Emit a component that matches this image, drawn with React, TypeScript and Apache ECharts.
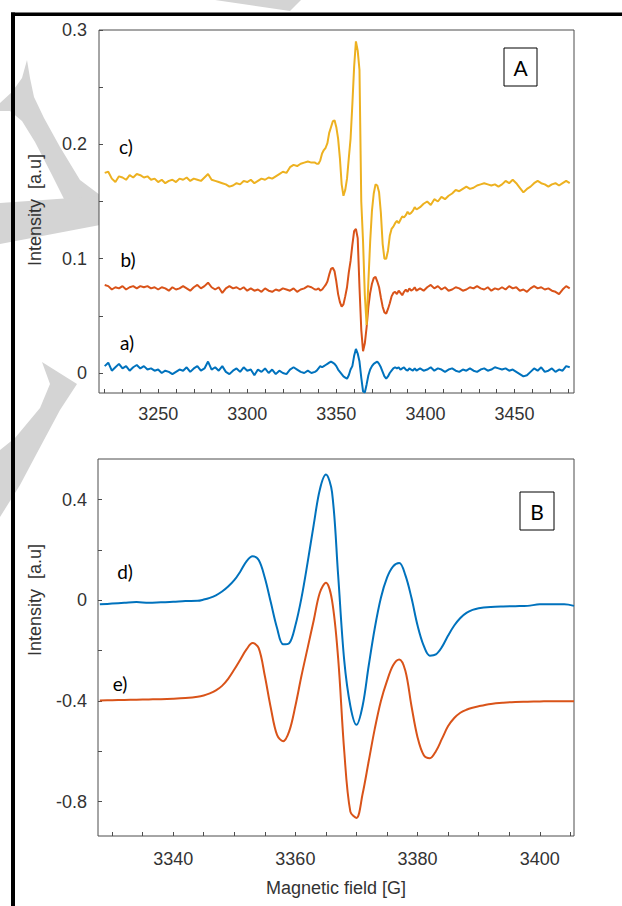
import React, { useEffect, useRef } from "react";
import * as echarts from "echarts";

// ---------- Panel A data ----------
const fieldA = [
  3220, 3222, 3224, 3226, 3228, 3230, 3232, 3234, 3236, 3238,
  3240, 3242, 3244, 3246, 3248, 3250, 3252, 3254, 3256, 3258,
  3260, 3262, 3264, 3266, 3268, 3270, 3272, 3274, 3276, 3278,
  3280, 3282, 3284, 3286, 3288, 3290, 3292, 3294, 3296, 3298,
  3300, 3302, 3304, 3306, 3308, 3310, 3312, 3314, 3316, 3318,
  3320, 3322, 3324, 3326, 3328, 3330, 3332, 3334, 3336, 3338,
  3339, 3340, 3341, 3342, 3343, 3344, 3345, 3346, 3347, 3348,
  3349, 3350, 3351, 3352, 3353, 3354, 3355, 3356, 3357, 3358,
  3359, 3360, 3361, 3362, 3363, 3364, 3365, 3366, 3367, 3368,
  3369, 3370, 3371, 3372, 3373, 3374, 3375, 3376, 3377, 3378,
  3379, 3380, 3381, 3382, 3383, 3384, 3385, 3386, 3387, 3388,
  3389, 3390, 3391, 3392, 3393, 3394, 3395,
  3397, 3399, 3401, 3403, 3405, 3407, 3409, 3411, 3413, 3415,
  3417, 3419, 3421, 3423, 3425, 3427, 3429, 3431, 3433, 3435,
  3437, 3439, 3441, 3443, 3445, 3447, 3449, 3451, 3453, 3455,
  3457, 3459, 3461, 3463, 3465, 3467, 3469, 3471, 3473, 3475,
  3477, 3479, 3481,
];

const seriesA_a = [
  0.006, 0.009, 0.002, 0.005, 0.008, 0.004, 0.006, 0.002, 0.005, 0.007,
  0.004, 0.006, 0.003, 0.004, 0.002, 0.003, 0.0, 0.002, 0.001, -0.001,
  0.001, 0.003, 0.002, 0.005, 0.001, 0.004, 0.006, 0.002, 0.004, 0.01,
  0.003, 0.005, 0.002, 0.006, 0.001, -0.001, 0.002, 0.004, 0.001, 0.005,
  0.002, 0.003, -0.002, 0.003, 0.001, 0.004, 0.0, 0.003, -0.001, 0.002,
  0.0, -0.001, 0.003, 0.005, 0.003, 0.001, 0.0, 0.002, 0.0, 0.001,
  0.002, 0.004, 0.006, 0.005, 0.006, 0.007, 0.008, 0.009, 0.01, 0.009,
  0.008, 0.006, 0.003, 0.001, -0.001, -0.003, -0.004, -0.005, -0.002, 0.003,
  0.006, 0.015, 0.021, 0.017, 0.01, -0.004, -0.016, -0.017, -0.01, -0.002,
  0.003, 0.006, 0.008, 0.009, 0.01, 0.008, 0.005, 0.001, -0.003, -0.005,
  -0.003, 0.0, 0.002, 0.004, 0.005, 0.004, 0.005, 0.003, 0.004, 0.005,
  0.003, 0.002, 0.004, 0.003, 0.002, 0.004, 0.002,
  0.004, 0.002, 0.003, 0.005, 0.002, 0.004, 0.003, 0.001, 0.003, 0.004,
  0.002, 0.001, 0.003, 0.002, 0.004, 0.002, 0.001, 0.003, 0.004, 0.002,
  0.003, 0.005, 0.004, 0.003, 0.004, 0.002, 0.003, 0.001, -0.001, -0.003,
  -0.002, 0.001, 0.004, 0.002, 0.005, 0.001, 0.002, 0.004, 0.001, 0.003,
  0.002, 0.006, 0.005,
];

const seriesA_b = [
  0.077, 0.076, 0.073, 0.075, 0.074, 0.076, 0.073, 0.075, 0.076, 0.074,
  0.076, 0.075, 0.076, 0.074, 0.075, 0.073, 0.075, 0.074, 0.072, 0.075,
  0.073, 0.074, 0.076, 0.074, 0.072, 0.075, 0.077, 0.074, 0.076, 0.079,
  0.075, 0.073, 0.075, 0.07, 0.074, 0.076, 0.074, 0.075, 0.073, 0.075,
  0.072, 0.074, 0.072, 0.073, 0.071, 0.074, 0.072, 0.071, 0.073, 0.072,
  0.074, 0.073, 0.072, 0.074, 0.071, 0.073, 0.074, 0.076, 0.075, 0.073,
  0.073, 0.074, 0.072, 0.073, 0.075, 0.077, 0.08, 0.086, 0.091, 0.092,
  0.089, 0.08, 0.069, 0.062, 0.058, 0.06, 0.067, 0.075, 0.088, 0.098,
  0.112, 0.124, 0.126, 0.118, 0.075, 0.038, 0.019, 0.026, 0.04, 0.058,
  0.07, 0.078, 0.083, 0.084, 0.08, 0.075, 0.066, 0.058, 0.053, 0.052,
  0.056, 0.061, 0.067, 0.07, 0.071, 0.069, 0.072, 0.07, 0.068, 0.071,
  0.073, 0.071, 0.074, 0.072, 0.073, 0.075, 0.072,
  0.074, 0.072, 0.075, 0.077, 0.074, 0.076, 0.073, 0.075, 0.072, 0.073,
  0.075, 0.074, 0.072, 0.073, 0.075, 0.074, 0.076, 0.074, 0.073, 0.075,
  0.072, 0.074, 0.073, 0.075, 0.073, 0.076, 0.074, 0.075, 0.072, 0.073,
  0.071, 0.074, 0.076, 0.074, 0.075, 0.073, 0.074, 0.072, 0.071, 0.069,
  0.073, 0.076, 0.074,
];

const seriesA_c = [
  0.175, 0.176, 0.17, 0.167, 0.172, 0.171, 0.169, 0.173, 0.171, 0.174,
  0.173, 0.171, 0.172, 0.169, 0.17, 0.167, 0.169, 0.166, 0.168, 0.169,
  0.167, 0.17, 0.169, 0.171, 0.168, 0.17, 0.169, 0.168, 0.171, 0.174,
  0.169, 0.168, 0.167, 0.166, 0.165, 0.163, 0.164, 0.166, 0.165, 0.168,
  0.167, 0.169, 0.166, 0.168, 0.17, 0.169, 0.171, 0.17, 0.172, 0.174,
  0.176, 0.175, 0.18, 0.182, 0.181, 0.183, 0.184, 0.185, 0.184, 0.184,
  0.183, 0.183, 0.186, 0.192, 0.195, 0.197, 0.201, 0.21, 0.215, 0.22,
  0.221, 0.215, 0.205, 0.188, 0.165, 0.155, 0.16, 0.17, 0.188, 0.205,
  0.235, 0.268, 0.29, 0.282, 0.265, 0.15, 0.115, 0.068, 0.042, 0.08,
  0.115, 0.142, 0.157, 0.165, 0.164, 0.158, 0.14, 0.113, 0.1, 0.1,
  0.107, 0.12, 0.126, 0.128, 0.131, 0.133, 0.131, 0.134, 0.137, 0.136,
  0.138, 0.141, 0.139, 0.14, 0.142, 0.145, 0.143,
  0.145, 0.148, 0.15, 0.147, 0.152, 0.15, 0.154, 0.152, 0.155, 0.157,
  0.16, 0.159, 0.161, 0.163, 0.161, 0.162, 0.164, 0.165, 0.166, 0.165,
  0.164, 0.165, 0.163, 0.165, 0.168, 0.166, 0.169, 0.166, 0.162, 0.158,
  0.161, 0.163, 0.166, 0.168, 0.166, 0.165, 0.163, 0.165, 0.166, 0.164,
  0.166, 0.168, 0.166,
];

const ticksAx = [3220, 3230, 3240, 3250, 3260, 3270, 3280, 3290, 3300, 3310, 3320, 3330, 3340, 3350, 3360, 3370, 3380, 3390, 3400, 3410, 3420, 3430, 3440, 3450, 3460, 3470, 3480];
const labelsAx = [3250, 3300, 3350, 3400, 3450];
const ticksAy = [0, 0.05, 0.1, 0.15, 0.2, 0.25, 0.3];
const labelsAy = [0, 0.1, 0.2, 0.3];

// ---------- Panel B data ----------
const fieldB = [
  3328, 3330, 3332, 3334, 3336, 3338, 3340, 3342, 3344,
  3345, 3346, 3347, 3348, 3349, 3350, 3351, 3352, 3353, 3354,
  3355, 3356, 3357, 3358, 3359, 3360, 3361, 3362, 3363, 3364,
  3365, 3366, 3367, 3368, 3369, 3370, 3371, 3372, 3373, 3374,
  3375, 3376, 3377, 3378, 3379, 3380, 3381, 3382, 3383, 3384,
  3385, 3386, 3387, 3388, 3389, 3390,
  3392, 3394, 3396, 3398, 3400, 3402, 3404, 3405.6,
];

const seriesB_d = [
  -0.016, -0.013, -0.01, -0.007, -0.01, -0.008, -0.006, -0.003, -0.002,
  0.003, 0.01, 0.02, 0.035, 0.055, 0.08, 0.115, 0.155, 0.175, 0.16,
  0.09, -0.01, -0.11, -0.175, -0.17, -0.1, 0.01, 0.15, 0.3, 0.44,
  0.5, 0.43, 0.1, -0.24, -0.42, -0.495, -0.42, -0.26, -0.11, 0.01,
  0.09, 0.135, 0.148, 0.1, 0.01, -0.1, -0.18, -0.22, -0.215, -0.185,
  -0.14, -0.1, -0.07, -0.05, -0.038, -0.031,
  -0.026, -0.024, -0.023, -0.022, -0.016, -0.016, -0.016, -0.022,
];

const seriesB_e = [
  -0.398, -0.397, -0.396, -0.395, -0.394, -0.393, -0.391, -0.388, -0.383,
  -0.378, -0.37, -0.358, -0.34, -0.312, -0.275, -0.235, -0.195, -0.17, -0.19,
  -0.3, -0.43, -0.535, -0.56, -0.52, -0.42, -0.3, -0.19, -0.08, 0.03,
  0.07, 0.0, -0.23, -0.6, -0.84, -0.865, -0.77, -0.64, -0.51, -0.4,
  -0.32, -0.258, -0.235, -0.28, -0.42, -0.545, -0.615, -0.628, -0.6, -0.55,
  -0.5, -0.468, -0.447, -0.435, -0.427, -0.421,
  -0.412, -0.407, -0.404, -0.403, -0.402, -0.401, -0.401, -0.401,
];

const ticksBx = [3330, 3335, 3340, 3345, 3350, 3355, 3360, 3365, 3370, 3375, 3380, 3385, 3390, 3395, 3400, 3405];
const labelsBx = [3340, 3360, 3380, 3400];
const ticksBy = [-0.8, -0.6, -0.4, -0.2, 0, 0.2, 0.4];
const labelsBy = [-0.8, -0.4, 0, 0.4];

const curveLabelsA = ["a)", "b)", "c)"];
const curveLabelsB = ["d)", "e)"];

const zip = (xs: number[], ys: number[]) => xs.map((x, i) => [x, ys[i]]);
const fmt = (v: number) => String(Math.round(v * 100) / 100);

const AX_FONT = "Liberation Sans, Arial, sans-serif";
const LBL_FONT = "Lato, Open Sans, sans-serif";
const GRAY = "#d4d4d4";

function axis(gridIndex: number, min: number, max: number, ticks: number[], labels: number[], margin: number) {
  return {
    type: "value",
    gridIndex,
    min,
    max,
    axisLine: { show: false, onZero: false },
    splitLine: { show: false },
    axisTick: { show: true, inside: true, length: 4, customValues: ticks, lineStyle: { color: "#4d4d4d", width: 1 } },
    axisLabel: { customValues: labels, margin, fontSize: 18, color: "#333", fontFamily: AX_FONT, formatter: fmt },
  };
}

function lineSeries(xi: number, data: number[][], color: string, smooth: number | boolean) {
  return {
    type: "line",
    xAxisIndex: xi,
    yAxisIndex: xi,
    data,
    symbol: "none",
    showSymbol: false,
    smooth,
    lineStyle: { color, width: 2 },
    itemStyle: { color },
    emphasis: { disabled: true },
    clip: true,
  };
}

const watermark = [
  [[215, 0], [301, 0], [290, 11]],
  [[27, 60], [30, 78], [34, 97], [44, 118], [60, 147], [80, 180], [100, 195], [100, 200], [65, 201], [52, 175], [35, 142], [22, 121], [10, 111], [0, 111], [0, 103], [12, 92], [22, 78]],
  [[0, 203], [100, 196], [100, 225], [0, 244]],
  [[42, 362], [77, 384], [60, 410], [37, 453], [20, 485], [0, 517], [0, 450], [15, 438], [40, 408], [50, 384]],
];

function text(t: string, x: number, y: number, size: number, family: string, color = "#000", rotation = 0) {
  return {
    type: "text",
    x,
    y,
    rotation,
    z: 100,
    style: { text: t, fontSize: size, fontFamily: family, fill: color, align: "center", verticalAlign: "middle" },
  };
}

export default function App() {
  const ref = useRef<HTMLDivElement>(null);
  useEffect(() => {
    if (!ref.current) return;
    const chart = echarts.init(ref.current, null, { renderer: "svg" });
    const option = {
      animation: false,
      backgroundColor: "#fff",
      grid: [
        { left: 99, top: 30, width: 475, height: 363, show: true, backgroundColor: "#fff", borderColor: "#4d4d4d", borderWidth: 1 },
        { left: 98, top: 459, width: 476, height: 377, show: true, backgroundColor: "#fff", borderColor: "#4d4d4d", borderWidth: 1 },
      ],
      xAxis: [
        axis(0, 3216.8, 3483.4, ticksAx, labelsAx, 12),
        axis(1, 3327.7, 3405.6, ticksBx, labelsBx, 14),
      ],
      yAxis: [
        axis(0, -0.0175, 0.3, ticksAy, labelsAy, 12),
        axis(1, -0.937, 0.562, ticksBy, labelsBy, 11),
      ],
      series: [
        lineSeries(0, zip(fieldA, seriesA_a), "#0072BD", false),
        lineSeries(0, zip(fieldA, seriesA_b), "#D95319", false),
        lineSeries(0, zip(fieldA, seriesA_c), "#EDB120", false),
        lineSeries(1, zip(fieldB, seriesB_d), "#0072BD", 0.35),
        lineSeries(1, zip(fieldB, seriesB_e), "#D95319", 0.35),
      ],
      graphic: [
        ...watermark.map((pts) => ({
          type: "polygon",
          z: -10,
          silent: true,
          shape: { points: pts },
          style: { fill: GRAY, stroke: "none" },
        })),
        { type: "line", z: 100, shape: { x1: 11, y1: 14.3, x2: 622, y2: 14.3 }, style: { stroke: "#000", lineWidth: 3.5 } },
        { type: "line", z: 100, shape: { x1: 13, y1: 12.5, x2: 13, y2: 906 }, style: { stroke: "#000", lineWidth: 4 } },
        text(curveLabelsA[2], 126, 146, 19, LBL_FONT),
        text(curveLabelsA[1], 128, 259, 19, LBL_FONT),
        text(curveLabelsA[0], 127, 342, 19, LBL_FONT),
        text(curveLabelsB[0], 125, 571, 19, LBL_FONT),
        text(curveLabelsB[1], 120, 683, 19, LBL_FONT),
        { type: "rect", z: 100, shape: { x: 504, y: 48, width: 33, height: 38 }, style: { fill: "#fff", stroke: "#000", lineWidth: 1 } },
        text("A", 520.5, 67.5, 21, LBL_FONT),
        { type: "rect", z: 100, shape: { x: 520, y: 492, width: 34, height: 38 }, style: { fill: "#fff", stroke: "#000", lineWidth: 1 } },
        text("B", 537, 511.5, 21, LBL_FONT),
        text("Intensity  [a.u]", 35, 210, 18, AX_FONT, "#333", Math.PI / 2),
        text("Intensity  [a.u]", 35, 600, 18, AX_FONT, "#333", Math.PI / 2),
        text("Magnetic field [G]", 336, 888, 18, AX_FONT, "#333"),
      ],
    };
    chart.setOption(option as any);
    return () => chart.dispose();
  }, []);
  return (
    <div
      ref={ref}
      style={{ position: "fixed", left: 0, top: 0, width: 622, height: 906, background: "#fff" }}
    />
  );
}
